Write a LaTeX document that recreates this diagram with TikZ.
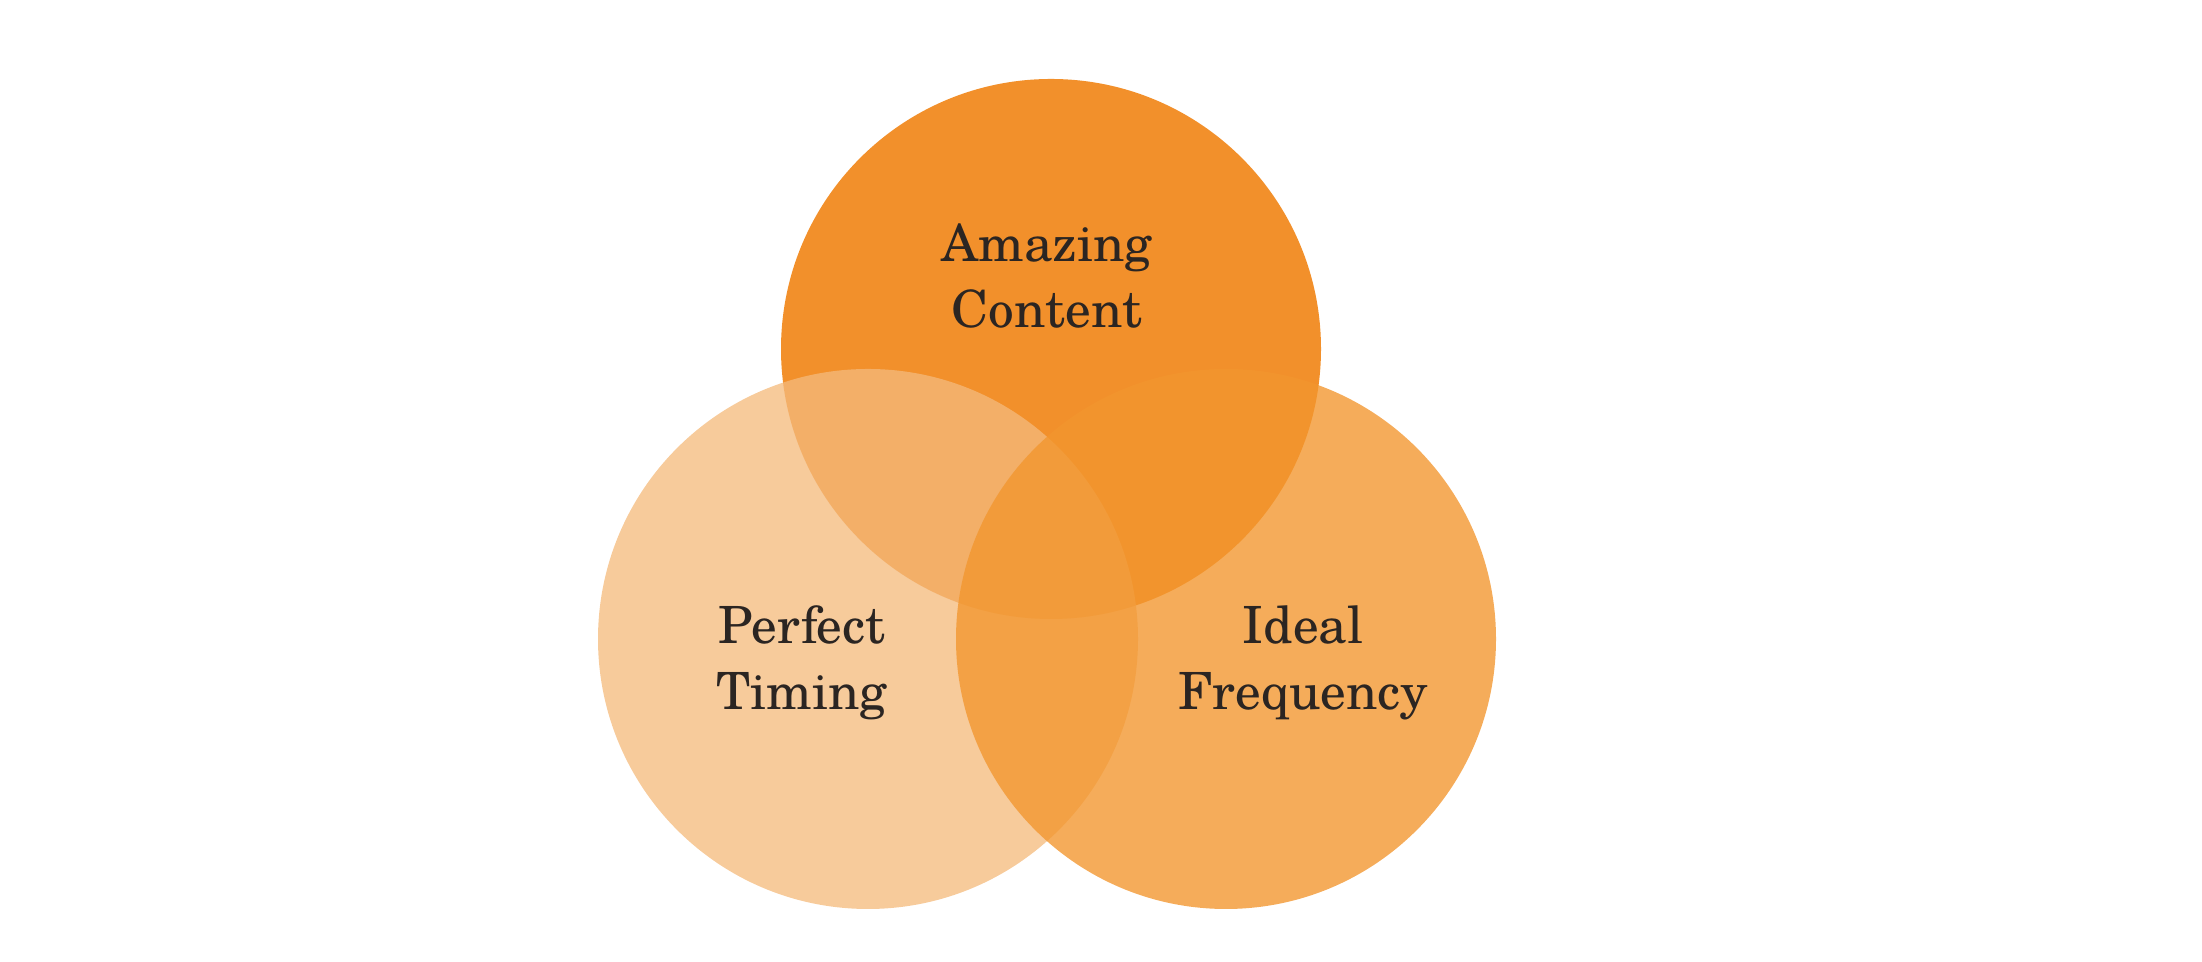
\documentclass[tikz,border=0pt]{standalone}
\usepackage{fontspec}
\setmainfont{texgyreschola-regular.otf}
\usetikzlibrary{calc}

\definecolor{topor}{RGB}{242,144,43}
\definecolor{leftor}{RGB}{244,186,124}
\definecolor{rightor}{RGB}{242,150,46}
\definecolor{ink}{RGB}{43,37,34}

\begin{document}
\begin{tikzpicture}[
  lbl/.style={align=center, text=ink, inner sep=0,
    font=\fontsize{14.6}{18.8}\selectfont}
]
\useasboundingbox (0,0) rectangle (22.02,9.62);
% the three sets
\fill[topor] (10.51,6.13) circle (2.70);
\fill[leftor, opacity=.76] (8.68,3.23) circle (2.70);
\fill[rightor, opacity=.79] (12.26,3.23) circle (2.70);
% labels
\node[lbl] (content) at (10.47,6.86) {Amazing\\Content};
\node[lbl] (timing) at (8.02,2.99) {Perfect\\Timing};
\node[lbl] (freq) at (13.03,2.99) {Ideal\\Frequency};
\end{tikzpicture}
\end{document}
